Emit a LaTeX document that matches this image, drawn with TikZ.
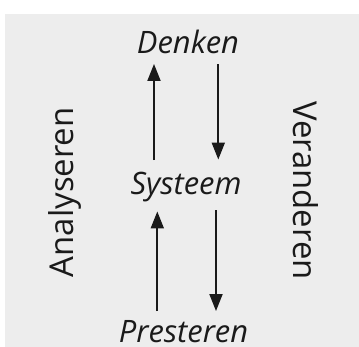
\documentclass[tikz,border=0pt]{standalone}
\usepackage{fontspec}
\setmainfont{Open Sans}
\usetikzlibrary{arrows.meta}
\definecolor{bggray}{HTML}{EDEDED}
\definecolor{ink}{HTML}{1A1A1A}
\tikzset{
  lbl/.style={inner sep=0pt, text=ink, font=\fontsize{31}{36}\selectfont\itshape, anchor=base},
  side/.style={inner sep=0pt, text=ink, font=\fontsize{33}{38}\selectfont, anchor=base},
  arr/.style={draw=ink, line width=2pt, -{Triangle[width=13pt,length=17pt]}}
}
\begin{document}
\begin{tikzpicture}[x=1bp,y=-1bp]
\useasboundingbox (0,0) rectangle (359,347);
\fill[bggray] (5,14) rectangle (359,347);
\node[lbl] (denken) at (188,53.3) {Denken};
\node[lbl] (systeem) at (186,194.3) {Systeem};
\node[lbl] (presteren) at (183.5,342.5) {Presteren};
\node[side, rotate=90] (analyseren) at (73.3,192.3) {Analyseren};
\node[side, rotate=-90] (veranderen) at (293,190.5) {Veranderen};
\coordinate (a1s) at (154,160);
\coordinate (a1e) at (154,64);
\coordinate (a2s) at (218.3,64);
\coordinate (a2e) at (218.3,159.5);
\coordinate (a3s) at (157.3,311);
\coordinate (a3e) at (157.3,211.5);
\coordinate (a4s) at (216,210);
\coordinate (a4e) at (216,311);
\draw[arr] (a1s) -- (a1e);
\draw[arr] (a2s) -- (a2e);
\draw[arr] (a3s) -- (a3e);
\draw[arr] (a4s) -- (a4e);
\end{tikzpicture}
\end{document}
